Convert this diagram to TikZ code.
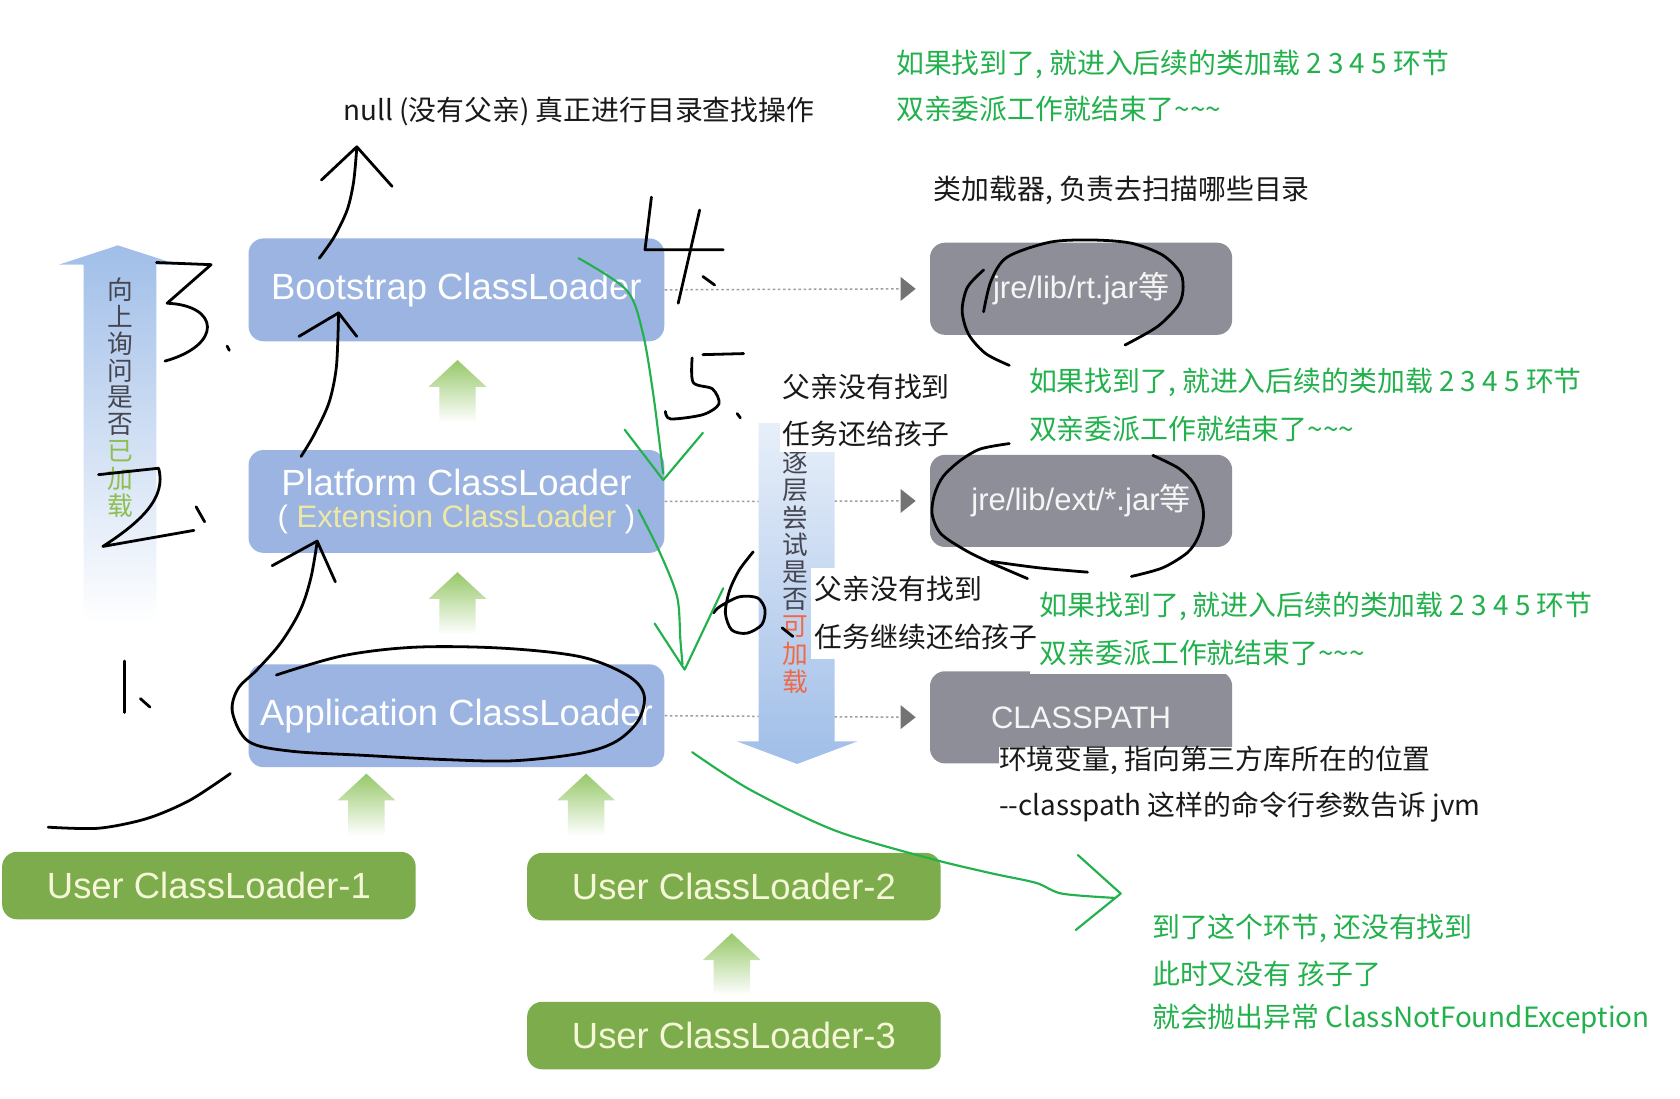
\documentclass[tikz,border=0pt]{standalone}
\usepackage{fontspec}
\setmainfont{Noto Sans CJK SC}
\newfontfamily\boxfont{Liberation Sans}
\newfontfamily\zhfont{Noto Sans CJK SC}
\usetikzlibrary{arrows.meta}
\definecolor{boxblue}{RGB}{156,180,225}
\definecolor{boxgray}{RGB}{142,142,152}
\definecolor{boxgreen}{RGB}{124,172,76}
\definecolor{arrowblue}{RGB}{160,190,232}
\definecolor{lgreen}{RGB}{150,200,105}
\definecolor{pgreen}{RGB}{34,177,76}
\definecolor{txtgray}{RGB}{70,70,80}
\definecolor{ylw}{RGB}{238,232,165}
\definecolor{org}{RGB}{240,105,70}
\definecolor{yl2}{RGB}{140,190,80}
\definecolor{gtxt}{RGB}{245,247,215}
\newcommand\mygarrow[2]{\shade[top color=lgreen, bottom color=white] (#1,#2) -- ++(27,25) -- ++(-10,0) -- ++(0,33) -- ++(-34,0) -- ++(0,-33) -- ++(-10,0) -- cycle;}
\begin{document}
\begin{tikzpicture}[x=0.5pt,y=-0.5pt,
  bluebox/.style={fill=boxblue, rounded corners=7pt, minimum width=194pt, minimum height=48pt, text=white, font=\boxfont\fontsize{17}{15}\selectfont, align=center, inner sep=0pt},
  graybox/.style={fill=boxgray, rounded corners=7pt, minimum width=141pt, minimum height=43pt, text=white!92!gray, font=\boxfont\fontsize{14.5}{17}\selectfont, inner sep=0pt},
  greenbox/.style={fill=boxgreen, rounded corners=7pt, minimum width=193pt, minimum height=31.5pt, text=gtxt, font=\boxfont\fontsize{17}{20}\selectfont, inner sep=0pt},
  note/.style={anchor=west, inner sep=0pt, font=\fontsize{13}{15}\selectfont, text=black!90},
  gnote/.style={note, text=pgreen},
  hand/.style={line width=1.3pt, line cap=round, line join=round, draw=black},
  ghand/.style={line width=1pt, line cap=round, line join=round, draw=pgreen},
  conn/.style={draw=gray!75, line width=0.7pt, dash pattern=on 1.2pt off 1.2pt, -{Triangle[length=7pt,width=11pt,color=black!55]}, shorten >=6.5pt},
  cover/.style={fill=white, draw=none},
  vtxt/.style={inner sep=0pt, font=\fontsize{12}{12}\selectfont}
]
\useasboundingbox (0,0) rectangle (1568,1025);
\fill[white] (0,0) rectangle (1568,1025);

% left big arrow
\shade[top color=arrowblue, middle color=arrowblue!75!white, bottom color=white] (110,229) -- (166,247) -- (146,247) -- (146,582) -- (78,582) -- (78,247) -- (55,247) -- cycle;

% boxes
\node[bluebox] (boot) at (426,270.5) {Bootstrap ClassLoader};
\node[bluebox] (plat) at (426,468) {Platform ClassLoader\\{\fontsize{14.5}{15}\selectfont ( \textcolor{ylw}{Extension ClassLoader} )}};
\node[bluebox] (app) at (426,668) {Application ClassLoader};
\node[greenbox] (u1) at (195,826.5) {User ClassLoader-1};
\node[greenbox] (u2) at (685,827.5) {User ClassLoader-2};
\node[greenbox] (u3) at (685,966.5) {User ClassLoader-3};
\node[graybox] (rt) at (1009,269.5) {jre/lib/rt.jar{\zhfont 等}};
\node[graybox] (ext) at (1009,467.5) {jre/lib/ext/*.jar{\zhfont 等}};
\node[graybox] (cp) at (1009,669.5) {CLASSPATH};

% connectors
\draw[conn] (boot.east) -- (rt.west);
\draw[conn] (plat.east) -- (ext.west);
\draw[conn] (app.east) -- (cp.west);

% right big arrow
\shade[top color=arrowblue!25!white, bottom color=arrowblue] (708,395) -- (779,395) -- (779,692) -- (800,692) -- (744,713) -- (688,692) -- (708,692) -- cycle;

% small green arrows
\mygarrow{427}{336}
\mygarrow{427}{534}
\mygarrow{342}{722}
\mygarrow{547}{722}
\mygarrow{683}{871}

% vertical texts
\foreach \c [count=\i from 0] in {向,上,询,问,是,否} \node[vtxt, text=txtgray] (la\i) at (112,{270+25.25*\i}) {\c};
\foreach \c [count=\i from 6] in {已,加,载} \node[vtxt, text=yl2] (la\i) at (112,{270+25.25*\i}) {\c};
\foreach \c [count=\i from 0] in {逐,层,尝,试,是,否} \node[vtxt, text=txtgray] (ra\i) at (742,{432+25.5*\i}) {\c};
\foreach \c [count=\i from 6] in {可,加,载} \node[vtxt, text=org] (ra\i) at (742,{432+25.5*\i}) {\c};

% white patches behind pasted notes
\fill[cover] (728,338) rectangle (890,422);
\fill[cover] (942,341) rectangle (1490,414);
\fill[cover] (757,530) rectangle (966,615);
\fill[cover] (961,540) rectangle (1495,629);
\fill[cover] (932,697) rectangle (1385,772);

% notes
\node[gnote] (t1) at (836,60) {如果找到了, 就进入后续的类加载 2 3 4 5 环节};
\node[gnote] (t2) at (836,102) {双亲委派工作就结束了\textasciitilde\textasciitilde\textasciitilde};
\node[note] (t3) at (320,104) {null (没有父亲) 真正进行目录查找操作};
\node[note] (t4) at (871,178) {类加载器, 负责去扫描哪些目录};
\node[note] (t5) at (730,361) {父亲没有找到};
\node[note] (t6) at (730,405) {任务还给孩子};
\node[gnote] (t7) at (960,357) {如果找到了, 就进入后续的类加载 2 3 4 5 环节};
\node[gnote] (t8) at (960,400) {双亲委派工作就结束了\textasciitilde\textasciitilde\textasciitilde};
\node[note] (t9) at (760,550) {父亲没有找到};
\node[note] (t10) at (760,594) {任务继续还给孩子};
\node[gnote] (t11) at (970,566) {如果找到了, 就进入后续的类加载 2 3 4 5 环节};
\node[gnote] (t12) at (970,609) {双亲委派工作就结束了\textasciitilde\textasciitilde\textasciitilde};
\node[note] (t13) at (932,710) {环境变量, 指向第三方库所在的位置};
\node[note] (t14) at (932,753) {-{}-classpath 这样的命令行参数告诉 jvm};
\node[gnote] (t15) at (1075,866) {到了这个环节, 还没有找到};
\node[gnote] (t16) at (1075,909) {此时又没有 孩子了};
\node[gnote] (t17) at (1075,951) {就会抛出异常 ClassNotFoundException};

% handwritten black strokes
\draw[hand] plot[smooth, tension=0.55] coordinates {(258,630) (320,612) (388,604) (470,605) (542,613) (585,630) (601,648) (596,672) (575,692) (542,703) (480,710) (417,709) (340,705) (271,701) (232,692) (217,665) (222,643) (240,625) (262,600) (280,570) (290,540) (296,506)};
\draw[hand] (254,528) -- (296,505) -- (313,543);
\draw[hand] plot[smooth] coordinates {(45,772) (92,773) (137,764) (177,747) (215,722)};
\draw[hand] (116,617) -- (116,665);
\draw[hand] (131,652) -- (140,660);
\draw[hand] plot[smooth] coordinates {(281,426) (293,406) (307,376) (314,342) (316,292)};
\draw[hand] (279,314) -- (316,292) -- (333,314);
\draw[hand] plot[smooth] coordinates {(298,241) (312,221) (324,196) (330,170) (333,138)};
\draw[hand] (300,168) -- (333,137) -- (366,174);
\draw[hand] (146,245) -- (197,247) -- (156,283) .. controls (205,285) and (208,322) .. (154,337);
\draw[hand] (212,323) -- (214,327);
\draw[hand] (92,443) -- (148,437) .. controls (156,465) and (130,488) .. (96,510) -- (181,495);
\draw[hand] (183,473) -- (191,487);
\draw[hand] (608,184) -- (602,233) -- (675,233);
\draw[hand] (653,196) -- (633,283);
\draw[hand] (656,258) -- (667,266);
\draw[hand] (656,331) -- (694,330);
\draw[hand] plot[smooth] coordinates {(646,334) (647,357) (665,363) (671,377) (656,387) (626,391) (621,384)};
\draw[hand] (688,386) -- (691,390);
\draw[hand] plot[smooth] coordinates {(703,515) (690,532) (681,551) (677,572) (683,588) (697,591) (711,583) (714,569) (707,558) (690,557) (672,566) (666,572)};
\draw[hand] (730,586) -- (740,594);
% ellipses round the jar boxes
\draw[hand] plot[smooth] coordinates {(918,252) (903,268) (898,290) (904,312) (920,330) (942,341)};
\draw[hand] plot[smooth] coordinates {(918,291) (925,262) (940,240) (980,226) (1020,224) (1056,227) (1085,238) (1102,255) (1104,272) (1099,286) (1080,305) (1050,322)};
\draw[hand] plot[smooth] coordinates {(942,414) (915,419) (896,430) (880,445) (872,462) (870,480) (878,498) (900,513) (922,524) (959,540)};
\draw[hand] plot[smooth] coordinates {(925,524) (970,530) (1015,534)};
\draw[hand] plot[smooth] coordinates {(1076,425) (1100,437) (1114,451) (1122,470) (1123,485) (1118,502) (1108,516) (1085,530) (1056,538)};

% handwritten green strokes
\draw[ghand] plot[smooth] coordinates {(540,241) (585,271) (600,311) (610,370) (619,442)};
\draw[ghand] (583,401) -- (619,448) -- (656,404);
\draw[ghand] plot[smooth] coordinates {(596,476) (616,516) (632,557) (635,597) (637,620)};
\draw[ghand] (611,582) -- (639,625) -- (675,549);
\draw[ghand] plot[smooth] coordinates {(646,702) (700,737) (779,775) (867,801) (925,815) (967,824) (991,834) (1040,838)};
\draw[ghand] (1006,798) -- (1046,834) -- (1004,868);
\end{tikzpicture}
\end{document}
